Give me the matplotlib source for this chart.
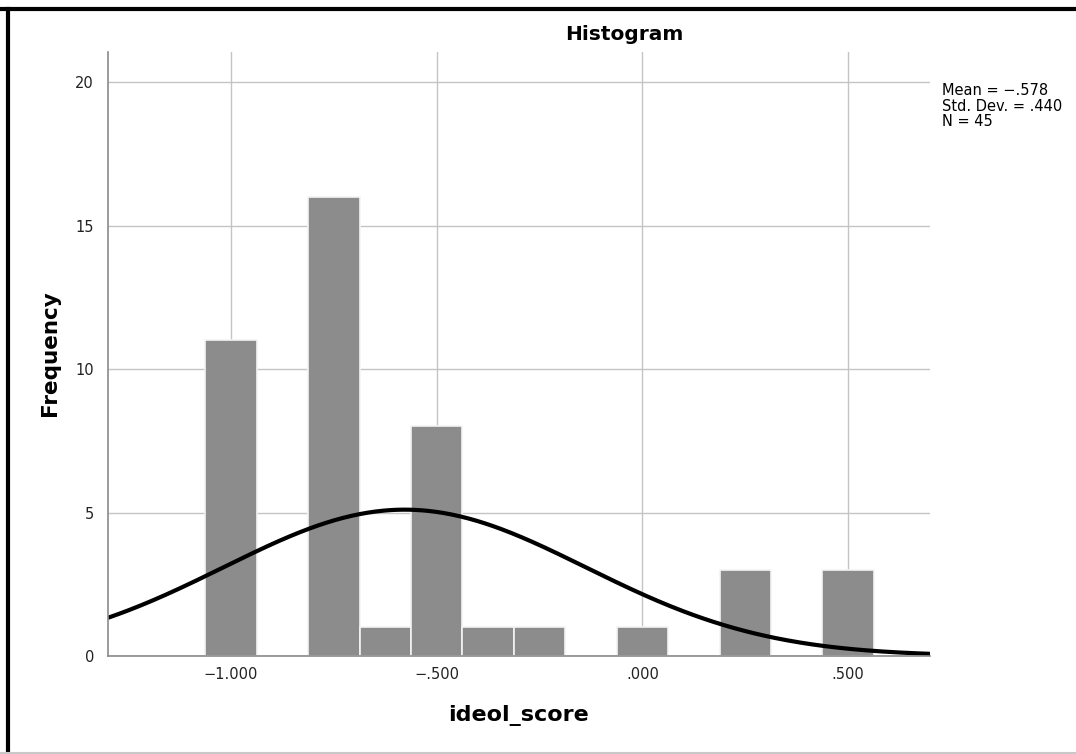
"""SPSS-style histogram of ideol_score with fitted normal curve."""

import matplotlib.pyplot as plt
import numpy as np
from matplotlib.lines import Line2D

# bin centres (width 0.125) and counts
bin_centers = [-1.000, -0.750, -0.625, -0.500, -0.375, -0.250, 0.000, 0.250, 0.500]
counts = [11, 16, 1, 8, 1, 1, 1, 3, 3]
bin_width = 0.125

stat_mean = -0.578
stat_sd = 0.440
stat_n = 45

x_ticks = [-1.0, -0.5, 0.0, 0.5]
x_tick_labels = ["\u22121.000", "\u2212.500", ".000", ".500"]
y_ticks = [0, 5, 10, 15, 20]

W, H = 1076, 754
fig = plt.figure(figsize=(W / 100, H / 100), dpi=100)
fig.patch.set_facecolor("white")

ax = fig.add_axes([108 / W, 1 - 656 / H, (930 - 108) / W, (656 - 52) / H])
ax.set_xlim(-1.299, 0.699)
ax.set_ylim(0, 21.05)

ax.bar(bin_centers, counts, width=bin_width, color="#8c8c8c",
       edgecolor="#f4f4f4", linewidth=1.2, zorder=2)

# fitted normal curve from the stated mean / sd / N
xs = np.linspace(-1.299, 0.699, 400)
ys = stat_n * bin_width / (stat_sd * np.sqrt(2 * np.pi)) * np.exp(-0.5 * ((xs - stat_mean) / stat_sd) ** 2)
ax.plot(xs, ys, color="black", linewidth=3, zorder=3, solid_capstyle="butt")

ax.set_xticks(x_ticks)
ax.set_xticklabels(x_tick_labels)
ax.set_yticks(y_ticks)
ax.tick_params(length=0, labelsize=10.5, labelcolor="#222222", pad=8)
ax.tick_params(axis="y", pad=10)
ax.grid(True, color="#c4c4c4", linewidth=1, zorder=0)
ax.set_axisbelow(True)
for side in ["top", "right"]:
    ax.spines[side].set_visible(False)
for side in ["left", "bottom"]:
    ax.spines[side].set_color("#8a8a8a")
    ax.spines[side].set_linewidth(1.2)
    ax.spines[side].set_zorder(4)

fig.text(624 / W, 1 - 35 / H, "Histogram", ha="center", va="center",
         fontsize=14.5, fontweight="bold")
fig.text(519 / W, 1 - 716 / H, "ideol_score", ha="center", va="center",
         fontsize=16, fontweight="bold")
fig.text(50 / W, 1 - 353 / H, "Frequency", ha="center", va="center",
         rotation=90, fontsize=15.5, fontweight="bold")
fig.text(942 / W, 1 - 83 / H,
         f"Mean = \u2212.578\nStd. Dev. = .440\nN = {stat_n}",
         ha="left", va="top", fontsize=10.5, linespacing=1.05)

# outer frame: dark top/left edges, light bottom edge
fig.add_artist(Line2D([0, 1], [1 - 8.5 / H, 1 - 8.5 / H], transform=fig.transFigure,
                      color="black", linewidth=3))
fig.add_artist(Line2D([7.5 / W, 7.5 / W], [0, 1 - 8.5 / H], transform=fig.transFigure,
                      color="black", linewidth=3))
fig.add_artist(Line2D([0, 1], [1.5 / H, 1.5 / H], transform=fig.transFigure,
                      color="#c8c8c8", linewidth=1.5))

fig.savefig("out.png", dpi=100)
